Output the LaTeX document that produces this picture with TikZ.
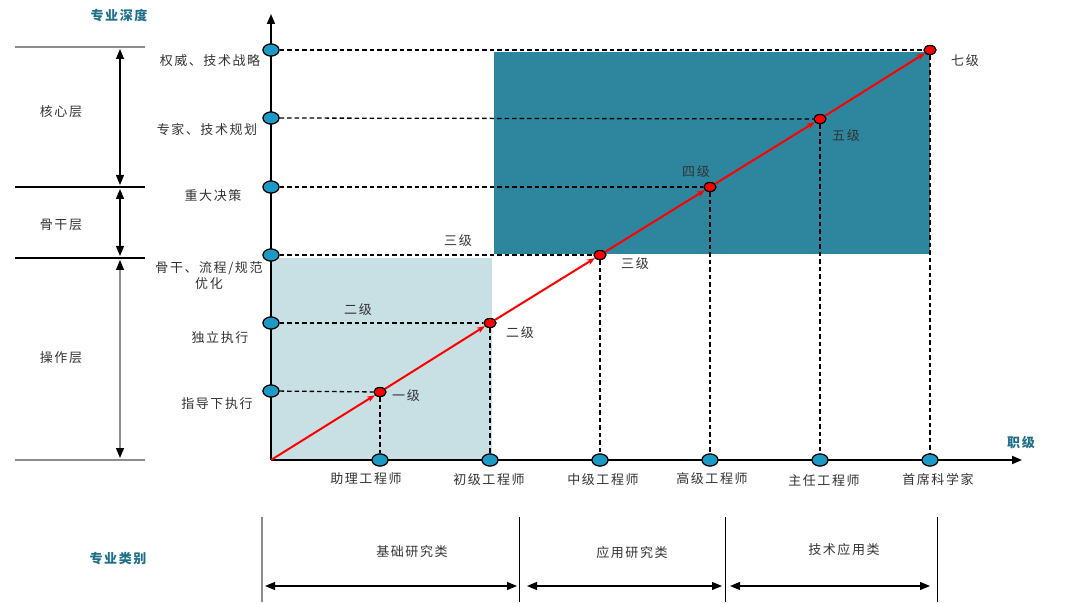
\documentclass[tikz,border=0pt]{standalone}
\usepackage{fontspec}
\newfontfamily\cjk[LetterSpace=12]{Noto Sans CJK SC}
\usetikzlibrary{arrows.meta,shapes.geometric}
\definecolor{txt}{HTML}{333333}
\definecolor{teal1}{HTML}{1F6F8B}
\definecolor{darkfill}{HTML}{2E859E}
\definecolor{lightfill}{HTML}{C8DFE4}
\definecolor{tickblue}{HTML}{1B9AC6}
\definecolor{sepgray}{HTML}{8C8C8C}
\begin{document}
\begin{tikzpicture}[x=1pt,y=-1pt,
  lbl/.style={font=\cjk\fontsize{13}{16}\selectfont, text=txt, inner sep=0, align=center},
  ttl/.style={font=\cjk\bfseries\fontsize{13}{16}\selectfont, text=teal1, inner sep=0},
  bdot/.style={ellipse, draw=black, fill=tickblue, minimum width=16, minimum height=12, inner sep=0, line width=1.1},
  rdot/.style={ellipse, draw=black, fill=red, minimum width=12, minimum height=9, inner sep=0, line width=1.1},
  dline/.style={dash pattern=on 4.5pt off 3pt, line width=1.3},
  axis/.style={line width=1.8, -{Triangle[length=10pt,width=8pt]}},
  redarrow/.style={red, line width=2, -{Stealth[length=8pt,width=6pt]}},
  sep/.style={sepgray, line width=1.2},
  dbl/.style={line width=1.2, {Triangle[length=10pt,width=8pt,black]}-{Triangle[length=10pt,width=8pt,black]}},
]
\useasboundingbox (0,0) rectangle (1080,604);

% fills
\fill[lightfill] (271,258) rectangle (492,460);
\fill[darkfill] (494,52) rectangle (930,254);

% origin and axes
\coordinate (o) at (271,460);
\coordinate (ytop) at (271,14);
\coordinate (xend) at (1022,460);
\draw[axis] (o) -- (ytop);
\draw[axis] (o) -- (xend);

% y ticks
\node[bdot] (y1) at (271,391) {};
\node[bdot] (y2) at (271,323) {};
\node[bdot] (y3) at (271,255) {};
\node[bdot] (y4) at (271,187) {};
\node[bdot] (y5) at (271,118) {};
\node[bdot] (y6) at (271,50) {};
% x ticks
\node[bdot] (x1) at (380,460) {};
\node[bdot] (x2) at (490,460) {};
\node[bdot] (x3) at (600,460) {};
\node[bdot] (x4) at (710,460) {};
\node[bdot] (x5) at (820,460) {};
\node[bdot] (x6) at (930,460) {};
% red points
\node[rdot] (r1) at (380,392) {};
\node[rdot] (r2) at (490,323) {};
\node[rdot] (r3) at (600,255) {};
\node[rdot] (r4) at (710,187) {};
\node[rdot] (r5) at (820,119) {};
\node[rdot] (r6) at (930,50) {};

% dashed guides
\foreach \i in {1,...,6}{
  \draw[dline] (y\i) -- (r\i);
  \draw[dline] (r\i) -- (x\i);
}
% redraw dots on top
\foreach \yy in {391,323,255,187,118,50}{
  \node[bdot] at (271,\yy) {};
}
\foreach \xx in {380,490,600,710,820,930}{
  \node[bdot] at (\xx,460) {};
}

% red line
\draw[redarrow] (o) -- (r1);
\draw[redarrow] (r1) -- (r2);
\draw[redarrow] (r2) -- (r3);
\draw[redarrow] (r3) -- (r4);
\draw[redarrow] (r4) -- (r5);
\draw[redarrow] (r5) -- (r6);
\foreach \xx/\yy in {380/392,490/323,600/255,710/187,820/119,930/50}{
  \node[rdot] at (\xx,\yy) {};
}

% left bracket lines
\coordinate (la) at (15,47);  \coordinate (lb) at (145,47);
\coordinate (lc) at (15,187); \coordinate (ld) at (145,187);
\coordinate (le) at (15,258); \coordinate (lf) at (145,258);
\coordinate (lg) at (15,460); \coordinate (lh) at (145,460);
\draw[sep] (la) -- (lb);
\draw[black, line width=1.1] (lc) -- (ld);
\draw[black, line width=1.1] (le) -- (lf);
\draw[sep] (lg) -- (lh);
\coordinate (a1) at (120,49);  \coordinate (a2) at (120,185);
\coordinate (a3) at (120,189); \coordinate (a4) at (120,256);
\coordinate (a5) at (120,260); \coordinate (a6) at (120,458);
\draw[dbl] (a1) -- (a2);
\draw[dbl] (a3) -- (a4);
\draw[dbl, draw=sepgray] (a5) -- (a6);

% layer labels
\node[lbl] (core) at (61,112) {核心层};
\node[lbl] (back) at (61,225) {骨干层};
\node[lbl] (oper) at (61,358) {操作层};

% y labels
\node[lbl] (t6) at (210,61) {权威、技术战略};
\node[lbl] (t5) at (207,130) {专家、技术规划};
\node[lbl] (t4) at (213,196) {重大决策};
\node[lbl] (t3) at (209,276) {骨干、流程/规范\\优化};
\node[lbl] (t2) at (220,338) {独立执行};
\node[lbl] (t1) at (217,404) {指导下执行};

% level labels
\node[lbl] (l1) at (406,396) {一级};
\node[lbl] (l2a) at (358,310) {二级};
\node[lbl] (l2b) at (520,333) {二级};
\node[lbl] (l3a) at (458,241) {三级};
\node[lbl] (l3b) at (635,264) {三级};
\node[lbl] (l4) at (696,172) {四级};
\node[lbl] (l5) at (846,136) {五级};
\node[lbl] (l7) at (965,61) {七级};

% x labels
\node[lbl] (xl1) at (366,479) {助理工程师};
\node[lbl] (xl2) at (489,480) {初级工程师};
\node[lbl] (xl3) at (603,480) {中级工程师};
\node[lbl] (xl4) at (712,479) {高级工程师};
\node[lbl] (xl5) at (824,481) {主任工程师};
\node[lbl] (xl6) at (938,480) {首席科学家};

% titles
\node[ttl] (ydepth) at (119,16) {专业深度};
\node[ttl] (xrank) at (1021,443) {职级};
\node[ttl] (cat) at (118,559) {专业类别};

% bottom categories
\coordinate (b1t) at (262,517); \coordinate (b1b) at (262,602);
\coordinate (b2t) at (519,517); \coordinate (b2b) at (519,602);
\coordinate (b3t) at (725,517); \coordinate (b3b) at (725,602);
\coordinate (b4t) at (937,517); \coordinate (b4b) at (937,602);
\draw[sep] (b1t) -- (b1b);
\draw[black, line width=0.9] (b2t) -- (b2b);
\draw[black, line width=0.9] (b3t) -- (b3b);
\draw[black, line width=0.9] (b4t) -- (b4b);
\coordinate (c1) at (265,586); \coordinate (c2) at (517,586);
\coordinate (c3) at (527,586); \coordinate (c4) at (722,586);
\coordinate (c5) at (730,586); \coordinate (c6) at (930,586);
\draw[dbl] (c1) -- (c2);
\draw[dbl] (c3) -- (c4);
\draw[dbl] (c5) -- (c6);
\node[lbl] (k1) at (412,552) {基础研究类};
\node[lbl] (k2) at (632,553) {应用研究类};
\node[lbl] (k3) at (844,550) {技术应用类};
\end{tikzpicture}
\end{document}
